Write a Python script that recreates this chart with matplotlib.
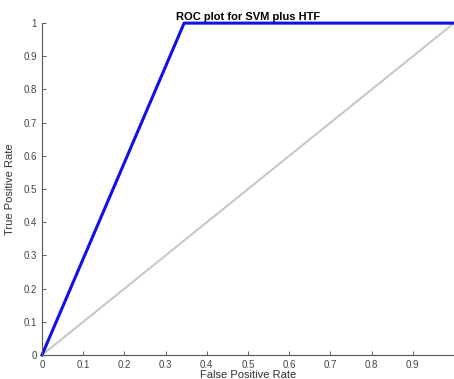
import numpy as np
import matplotlib.pyplot as plt

fpr = [0, 0.345, 1]
tpr = [0, 1, 1]
diag = [0, 1]
xticks = [0, 0.1, 0.2, 0.3, 0.4, 0.5, 0.6, 0.7, 0.8, 0.9]
yticks = [0, 0.1, 0.2, 0.3, 0.4, 0.5, 0.6, 0.7, 0.8, 0.9, 1]

plt.rcParams['font.family'] = ['Liberation Sans', 'DejaVu Sans']

fig = plt.figure(figsize=(4.54, 3.79), dpi=100)
ax = fig.add_axes([0.0925, 0.0633, 0.9075, 0.8757])

ax.plot(diag, diag, color='#c8c8c8', lw=1.5)
ax.plot(fpr, tpr, color='#1010e8', lw=2.2, clip_on=False)

ax.set_xlim(0, 1)
ax.set_ylim(0, 1)
ax.set_xticks(xticks)
ax.set_xticklabels([f'{t:g}' for t in xticks])
ax.set_yticks(yticks)
ax.set_yticklabels([f'{t:g}' for t in yticks])

for s in ['top', 'right']:
    ax.spines[s].set_visible(False)
for s in ['left', 'bottom']:
    ax.spines[s].set_color('#555555')
    ax.spines[s].set_linewidth(0.8)

ax.tick_params(direction='in', length=3, labelsize=7, colors='#444444', width=0.6)
ax.set_xlabel('False Positive Rate', fontsize=8, color='#333333', labelpad=0)
ax.set_ylabel('True Positive Rate', fontsize=8, color='#333333', labelpad=6)
ax.set_title('ROC plot for SVM plus HTF', fontsize=8, fontweight='bold', pad=2)

fig.savefig('out.png', dpi=100)
